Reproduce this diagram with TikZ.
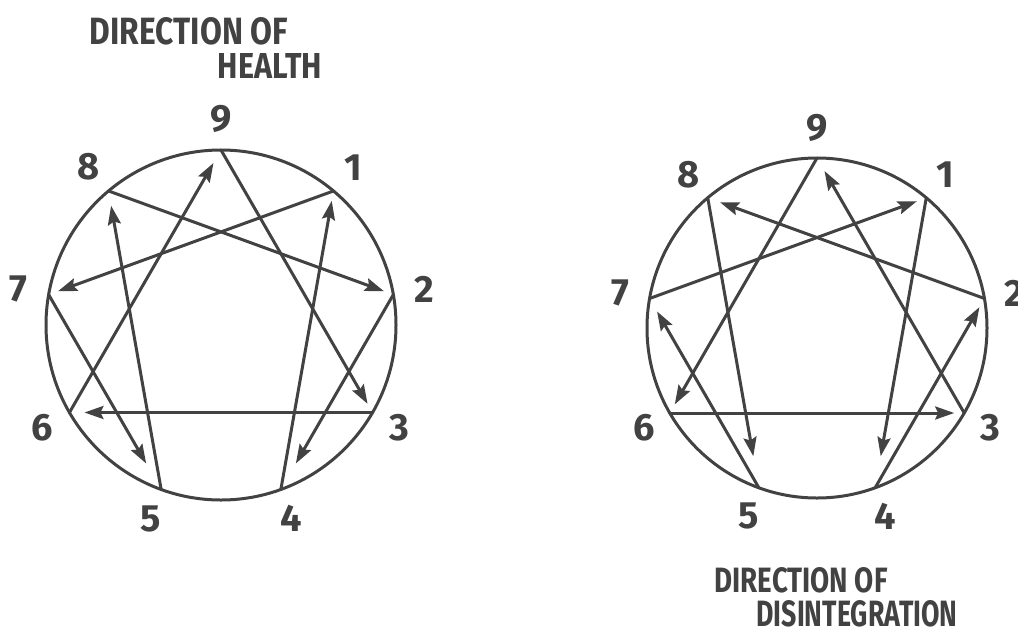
\documentclass[tikz,border=0pt]{standalone}
\usepackage{graphicx}
\usepackage{fontspec}
\setmainfont{Fira Sans}
\usetikzlibrary{arrows.meta}
\definecolor{pen}{HTML}{424242}

\begin{document}
\begin{tikzpicture}[x=1pt, y=-1pt, line width=3pt, line cap=round, draw=pen, text=pen,
  every node/.style={font=\fontsize{38}{40}\selectfont\bfseries},
  move/.style={-{Stealth[length=19pt,width=13pt,inset=3pt]}, shorten >=#1},
  move/.default=10pt]
\useasboundingbox (0,0) rectangle (1018,633);
% direction of health
\draw (221,325) circle (175);
\foreach \k [evaluate=\k as \a using 40*\k-90] in {1,...,9} {
  \coordinate (L\k) at ([shift={(221,325)}]\a:175);
  \node (Ln\k) at ([shift={(221,325)}]\a:206) {\k};
}
\draw[move] (L1) -- (L7);
\draw[move=30pt] (L7) -- (L5);
\draw[move=15pt] (L5) -- (L8);
\draw[move] (L8) -- (L2);
\draw[move=30pt] (L2) -- (L4);
\draw[move] (L4) -- (L1);
\draw[move] (L9) -- (L3);
\draw[move=15pt] (L3) -- (L6);
\draw[move=15pt] (L6) -- (L9);
\node (healthA) at (189,31) {\resizebox{198pt}{27pt}{DIRECTION OF}};
\node (healthB) at (270,66) {\resizebox{104pt}{25pt}{HEALTH}};
% direction of disintegration
\draw (817,328) circle (170);
\foreach \k [evaluate=\k as \a using 40*\k-90] in {1,...,9} {
  \coordinate (R\k) at ([shift={(817,328)}]\a:170);
  \node (Rn\k) at ([shift={(817,328)}]\a:200) {\k};
}
\draw[move=32pt] (R1) -- (R4);
\draw[move] (R4) -- (R2);
\draw[move=13pt] (R2) -- (R8);
\draw[move=32pt] (R8) -- (R5);
\draw[move=15pt] (R5) -- (R7);
\draw[move] (R7) -- (R1);
\draw[move] (R9) -- (R6);
\draw[move] (R6) -- (R3);
\draw[move=15pt] (R3) -- (R9);
\node (disA) at (801,580) {\resizebox{173pt}{25pt}{DIRECTION OF}};
\node (disB) at (857,614) {\resizebox{201pt}{26pt}{DISINTEGRATION}};
\end{tikzpicture}
\end{document}
